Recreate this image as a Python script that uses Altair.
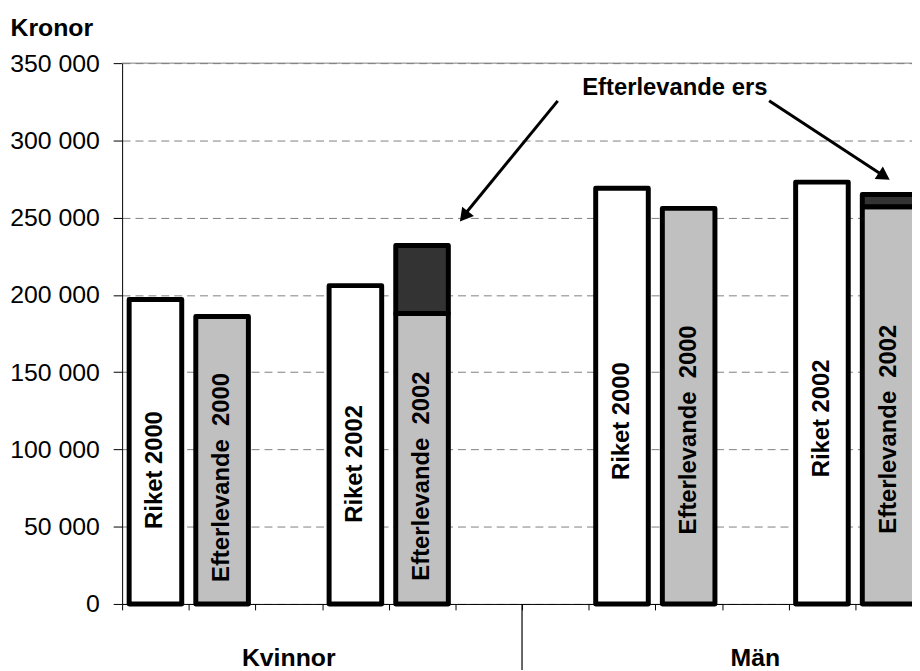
import altair as alt
import pandas as pd

# ---- data ----
slots = ["k_r00", "k_e00", "k_gap1", "k_r02", "k_e02", "k_gap2",
         "m_gap1", "m_r00", "m_e00", "m_gap2", "m_r02", "m_e02"]
bar_slots = ["k_r00", "k_e00", "k_r02", "k_e02", "m_r00", "m_e00", "m_r02", "m_e02"]
bar_labels = ["Riket 2000", "Efterlevande\u00a0 2000", "Riket 2002", "Efterlevande\u00a0 2002",
              "Riket 2000", "Efterlevande\u00a0 2000", "Riket 2002", "Efterlevande\u00a0 2002"]
bar_kinds = ["Riket", "Efterlevande", "Riket", "Efterlevande",
             "Riket", "Efterlevande", "Riket", "Efterlevande"]
base_values = [197000, 186000, 206000, 188000, 269000, 256000, 273000, 257000]
ers_values = [0, 0, 0, 44000, 0, 0, 0, 8000]
group_slots = ["k_gap1", "m_gap2"]
group_labels = ["Kvinnor", "Män"]
divider_slot = ["m_gap1"]
y_ticks = [0, 50000, 100000, 150000, 200000, 250000, 300000, 350000]

FONT = "Liberation Sans"
W_RANGE = 806
W = 796
H = 545

rows = []
for s, k, b, e in zip(bar_slots, bar_kinds, base_values, ers_values):
    rows.append({"slot": s, "kind": k, "y0": 0, "y1": b})
    if e > 0:
        rows.append({"slot": s, "kind": "Ers", "y0": b, "y1": b + e})
seg = pd.DataFrame(rows)

labels = pd.DataFrame({"slot": bar_slots, "label": bar_labels,
                       "ly": [v * 0.44 for v in base_values]})
groups = pd.DataFrame({"slot": group_slots, "label": group_labels})
divider = pd.DataFrame({"slot": divider_slot})
top = pd.DataFrame({"v": [y_ticks[-1]]})
one = pd.DataFrame({"a": [0]})

xscale = alt.Scale(domain=slots, range=[0, W_RANGE], paddingInner=0, paddingOuter=0)
yscale = alt.Scale(domain=[0, 350000], nice=False)

yaxis = alt.Axis(values=y_ticks,
                 labelExpr="replace(format(datum.value, ','), ',', ' ')",
                 labelFont=FONT, labelFontSize=25, labelColor="black",
                 labelPadding=14, tickSize=9, tickColor="black",
                 domainColor="black", grid=True, gridColor="#808080",
                 gridDash=[8, 5], gridWidth=1,
                 titleAngle=0, titleAlign="left", titleBaseline="alphabetic",
                 titleX=-113, titleY=-28, titleFont=FONT, titleFontSize=25,
                 titleFontWeight="bold", titleColor="black")
xaxis = alt.Axis(labels=False, title=None, tickBand="extent", tickSize=6,
                 tickColor="black", domainColor="black", grid=False)

bars = alt.Chart(seg).mark_bar(width=53, stroke="black", strokeWidth=5,
                               strokeJoin="round").encode(
    x=alt.X("slot:N", scale=xscale, axis=xaxis),
    y=alt.Y("y0:Q", scale=yscale, axis=yaxis, title="Kronor"),
    y2="y1:Q",
    fill=alt.Fill("kind:N", scale=alt.Scale(domain=["Riket", "Efterlevande", "Ers"],
                                             range=["#FFFFFF", "#C0C0C0", "#333333"]),
                  legend=None),
)

toprule = alt.Chart(top).mark_rule(color="#808080", strokeWidth=1).encode(
    y=alt.Y("v:Q", scale=yscale, title="Kronor"))

bar_text = alt.Chart(labels).mark_text(angle=270, align="center", baseline="middle",
                                       font=FONT, fontSize=24, fontWeight="bold",
                                       color="black").encode(
    x=alt.X("slot:N", scale=xscale),
    y=alt.Y("ly:Q", scale=yscale, title="Kronor"),
    text="label:N",
)

group_text = alt.Chart(groups).mark_text(align="center", baseline="alphabetic",
                                         font=FONT, fontSize=25, fontWeight="bold",
                                         color="black").encode(
    x=alt.X("slot:N", scale=xscale),
    y=alt.value(H + 63),
    text="label:N",
)

div_rule = alt.Chart(divider).mark_rule(color="black", strokeWidth=1.2).encode(
    x=alt.X("slot:N", scale=xscale, bandPosition=0),
    y=alt.value(H),
    y2=alt.value(H + 80),
)

ann_text = alt.Chart(one).mark_text(text="Efterlevande ers", align="center",
                                    baseline="alphabetic", font=FONT, fontSize=24,
                                    fontWeight="bold", color="black").encode(
    x=alt.value(557), y=alt.value(32))

shaft1 = alt.Chart(one).mark_rule(color="black", strokeWidth=3).encode(
    x=alt.value(439), y=alt.value(38), x2=alt.value(344), y2=alt.value(154))
shaft2 = alt.Chart(one).mark_rule(color="black", strokeWidth=3).encode(
    x=alt.value(652), y=alt.value(38), x2=alt.value(768), y2=alt.value(114))
head1 = alt.Chart(one).mark_point(shape="triangle-up", filled=True, size=230,
                                  angle=218.8, color="black", opacity=1).encode(
    x=alt.value(344.5), y=alt.value(154.5))
head2 = alt.Chart(one).mark_point(shape="triangle-up", filled=True, size=230,
                                  angle=122.9, color="black", opacity=1).encode(
    x=alt.value(768), y=alt.value(114))

chart = alt.layer(
    toprule, bars, bar_text, group_text, div_rule, ann_text,
    shaft1, shaft2, head1, head2,
).properties(
    width=W, height=H,
    autosize=alt.AutoSizeParams(type="none"),
    padding={"left": 115, "top": 53, "right": 0, "bottom": 64},
    background="white",
).configure_view(stroke=None)

chart.save("out.html", embed_options={"renderer": "svg", "actions": False})
